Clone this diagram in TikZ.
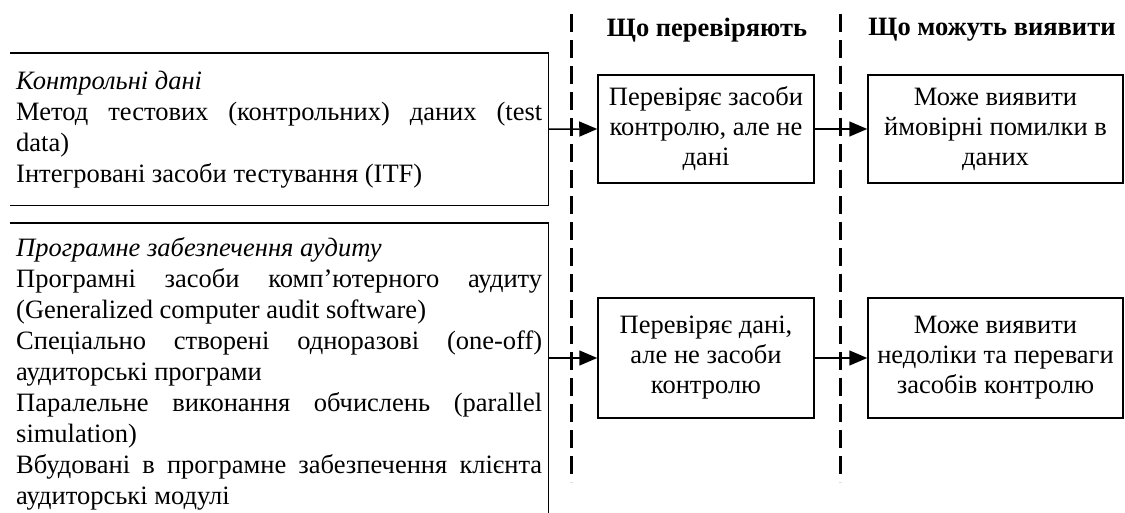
\documentclass[tikz,border=0pt]{standalone}
\usepackage{fontspec}
\setmainfont{Liberation Serif}
\usetikzlibrary{arrows.meta}
\begin{document}
\begin{tikzpicture}[x=1pt,y=-1pt,>={Triangle[length=18pt,width=15pt]}]
			\tikzset{every node/.style={font=\fontsize{26.5}{31}\selectfont,inner sep=0pt},
				methodbox/.style={anchor=north west,text width=526pt,align=justify,inner xsep=6pt,
					execute at begin node={\hyphenpenalty=10000\exhyphenpenalty=10000\tolerance=9999\emergencystretch=3em}},
				checkbox/.style={draw,line width=1.5pt,align=center,font=\fontsize{26.5}{30}\selectfont},
				colhead/.style={font=\fontsize{26.5}{31}\selectfont\bfseries}}
			\useasboundingbox (0,0) rectangle (1125,513);
			% separators between the columns
			\draw[line width=3pt,dash pattern=on 18pt off 8pt] (571,14)--(571,482) (840,14)--(840,482);
			\node[colhead] (hcheck) at (707,30) {Що перевіряють};
			\node[colhead] (hfind) at (992,30) {Що можуть виявити};
			% left column
			\node[methodbox,minimum height=152pt] (ltop) at (10,53) {\textit{Контрольні дані}\\
				Метод тестових (контрольних) даних (test\linebreak data)\\
				Інтегровані засоби тестування (ITF)};
			\node[methodbox,minimum height=302pt] (lbot) at (10,223) {\textit{Програмне забезпечення аудиту}\\
				Програмні засоби комп’ютерного аудиту\linebreak (Generalized computer audit software)\\
				Спеціально створені одноразові (one-off)\linebreak аудиторські програми\\
				Паралельне виконання обчислень (parallel\linebreak simulation)\\
				Вбудовані в програмне забезпечення клієнта аудиторські модулі};
			\draw[line width=1.5pt] (ltop.south west)--(ltop.south east)--(ltop.north east)--(ltop.north west);
			\draw[line width=1.5pt] (lbot.north west)--(lbot.north east)--(lbot.south east);
			% what is checked
			\node[checkbox,minimum width=216pt,minimum height=108pt] (ctop) at (706,129) {Перевіряє засоби\\контролю, але не\\дані};
			\node[checkbox,minimum width=216pt,minimum height=120pt] (cbot) at (706,358) {Перевіряє дані,\\але не засоби\\контролю};
			% what can be found
			\node[checkbox,minimum width=255pt,minimum height=108pt] (ftop) at (995.5,129) {Може виявити\\ймовірні помилки в\\даних};
			\node[checkbox,minimum width=255pt,minimum height=120pt] (fbot) at (995.5,358) {Може виявити\\недоліки та переваги\\засобів контролю};
			\draw[->,line width=1.5pt] (ltop.east)--(ctop.west);
			\draw[->,line width=1.5pt] (cbot.west -| lbot.east)--(cbot.west);
			\draw[->,line width=1.5pt] (ctop.east)--(ftop.west);
			\draw[->,line width=1.5pt] (cbot.east)--(fbot.west);
		\end{tikzpicture}
\end{document}
